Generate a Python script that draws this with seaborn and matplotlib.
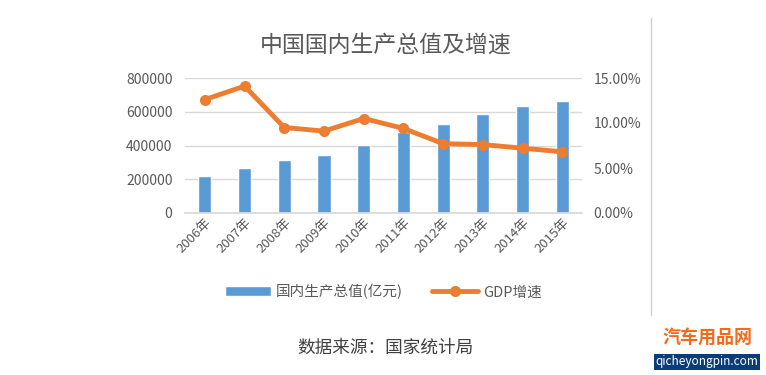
import numpy as np
import pandas as pd
import matplotlib
matplotlib.use('Agg')
import matplotlib.pyplot as plt
from matplotlib.ticker import PercentFormatter
import seaborn as sns

sns.set_theme(style="white")
plt.rcParams['font.family'] = ['Noto Sans CJK SC', 'DejaVu Sans']

# data
years = ['2006年', '2007年', '2008年', '2009年', '2010年',
         '2011年', '2012年', '2013年', '2014年', '2015年']
gdp = [219000, 268000, 314000, 341000, 402000, 482000, 528000, 588000, 632000, 666000]
growth = [12.6, 14.1, 9.5, 9.1, 10.5, 9.4, 7.7, 7.6, 7.2, 6.8]

df = pd.DataFrame({'year': years, 'gdp': gdp, 'growth': growth})
df['pos'] = np.arange(len(df))

bar_c = '#5B9BD5'
line_c = '#ED7D31'
txt_c = '#595959'
grid_c = '#D9D9D9'

fig = plt.figure(figsize=(7.66, 3.75), dpi=100)
ax = fig.add_axes([0.2415, 0.432, 0.5185, 0.36])

sns.barplot(data=df, x='year', y='gdp', color=bar_c, saturation=1,
            width=0.33, ax=ax, label='国内生产总值(亿元)')
ax.set_ylim(0, 800000)
ax.set_yticks([0, 200000, 400000, 600000, 800000])
ax.set_xlim(-0.5, len(years) - 0.5)
ax.set_xlabel('')
ax.set_ylabel('')
ax.yaxis.grid(True, color=grid_c, linewidth=1)
ax.set_axisbelow(True)
for s in ax.spines.values():
    s.set_visible(False)
ax.spines['bottom'].set_visible(True)
ax.spines['bottom'].set_color(grid_c)
ax.tick_params(axis='y', colors=txt_c, labelsize=10, length=0, pad=9)
ax.tick_params(axis='x', colors=txt_c, labelsize=9.5, length=0, pad=2)
for lab in ax.get_xticklabels():
    lab.set_rotation(45)
    lab.set_ha('right')
    lab.set_rotation_mode('anchor')
if ax.get_legend() is not None:
    ax.get_legend().remove()

ax2 = ax.twinx()
sns.lineplot(data=df, x='pos', y='growth', color=line_c, linewidth=3.5,
             marker='o', markersize=8, markeredgewidth=0, ax=ax2, label='GDP增速')
ax2.set_ylim(0, 15)
ax2.set_yticks([0, 5, 10, 15])
ax2.yaxis.set_major_formatter(PercentFormatter(decimals=2))
ax2.set_ylabel('')
ax2.set_xlabel('')
for s in ax2.spines.values():
    s.set_visible(False)
ax2.tick_params(axis='y', colors=txt_c, labelsize=10, length=0, pad=8)
ax2.get_legend().remove()

h1, l1 = ax.get_legend_handles_labels()
h2, l2 = ax2.get_legend_handles_labels()
leg = fig.legend(h1 + h2, l1 + l2, loc='center', bbox_to_anchor=(0.5, 0.222),
                 ncol=2, frameon=False, fontsize=10.5, handlelength=3.2,
                 columnspacing=2.0, handletextpad=0.3)
for t in leg.get_texts():
    t.set_color(txt_c)

fig.text(0.503, 0.88, '中国国内生产总值及增速', ha='center', va='center',
         fontsize=16.5, color=txt_c)
fig.text(0.503, 0.072, '数据来源：国家统计局', ha='center', va='center',
         fontsize=12.7, color='#404040')

# right border line of the chart frame
fig.add_artist(plt.Line2D([0.85, 0.85], [0.16, 0.952], color='#CFCFCF', linewidth=1))

# watermark
fig.text(0.923, 0.098, '汽车用品网', ha='center', va='center', fontsize=13,
         fontweight='bold', color='#F26B1D')
fig.text(0.923, 0.035, 'qicheyongpin.com', ha='center', va='center', fontsize=8.5,
         color='white', bbox=dict(boxstyle='square,pad=0.12', fc='#0B3C7A', ec='none'))

plt.savefig('out.png', dpi=100)
